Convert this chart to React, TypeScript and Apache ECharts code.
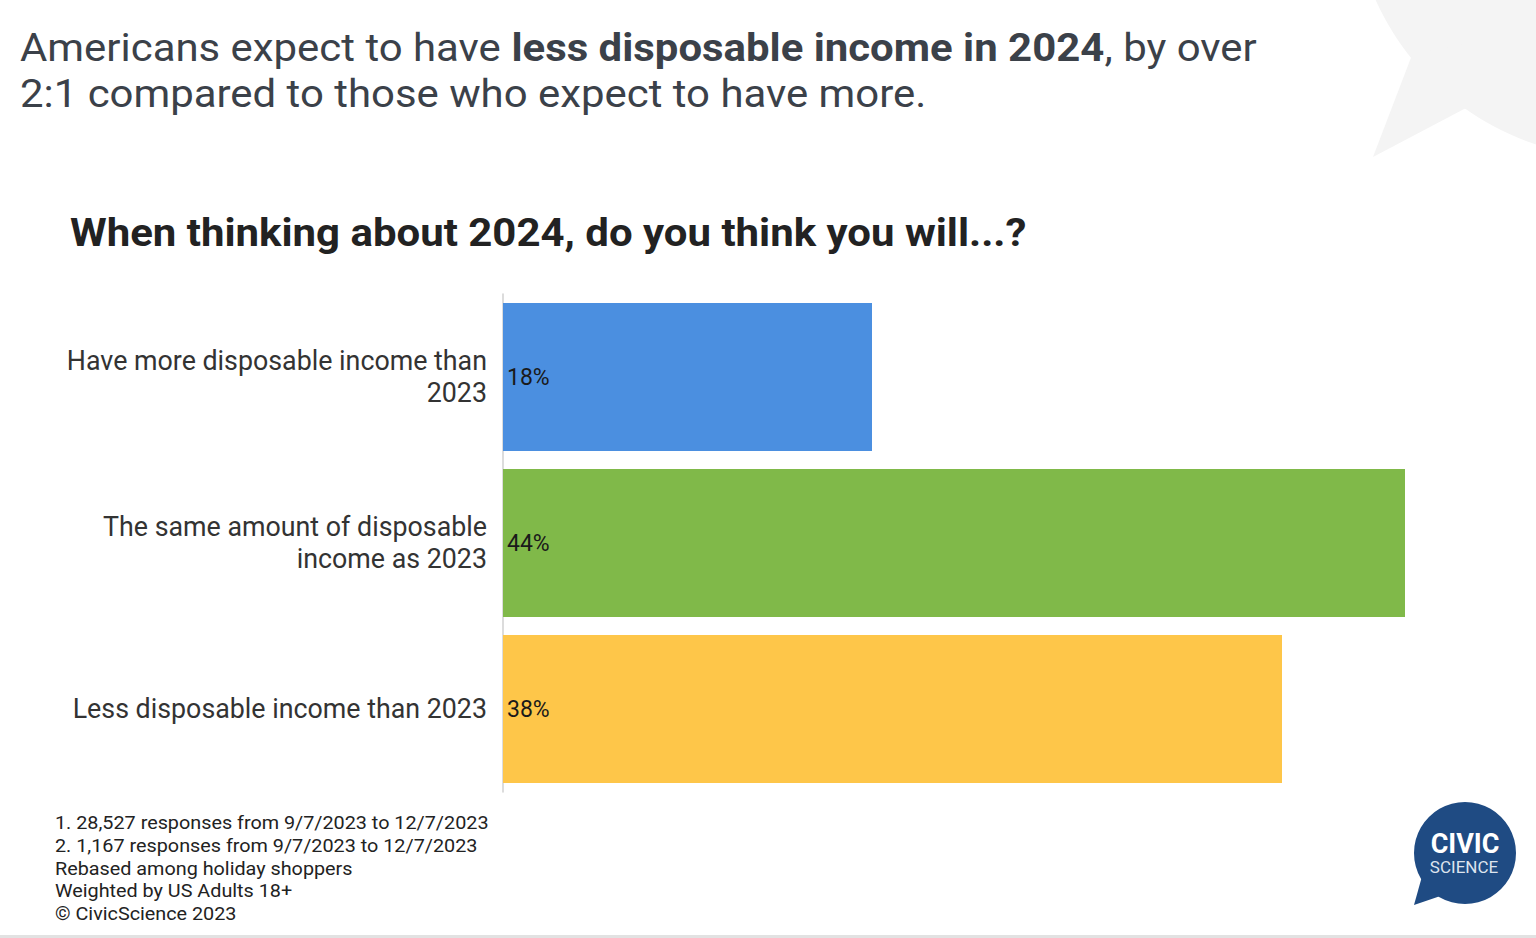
import React, { useEffect, useRef } from "react";
import * as echarts from "echarts";

const categories = [
  "Have more disposable income than\n2023",
  "The same amount of disposable\nincome as 2023",
  "Less disposable income than 2023",
];
const values = [18, 44, 38];
const barColors = ["#4b8fe0", "#80b949", "#fec649"];
const footnotes = [
  "1. 28,527 responses from 9/7/2023 to 12/7/2023",
  "2. 1,167 responses from 9/7/2023 to 12/7/2023",
  "Rebased among holiday shoppers",
  "Weighted by US Adults 18+",
  "© CivicScience 2023",
];
const titleLine1 = ["Americans expect to have ", "less disposable income in 2024", ", by over"];
const titleLine2 = "2:1 compared to those who expect to have more.";
const subtitle = "When thinking about 2024, do you think you will...?";

export default function App() {
  const ref = useRef<HTMLDivElement>(null);
  useEffect(() => {
    if (!ref.current) return;
    const chart = echarts.init(ref.current, null, { renderer: "svg" });
    const font = "Roboto";
    chart.setOption({
      animation: false,
      backgroundColor: "#ffffff",
      textStyle: { fontFamily: font },
      grid: { left: 503, right: 8, top: 294, height: 498 },
      xAxis: {
        type: "value",
        min: 0,
        max: 50,
        show: false,
      },
      yAxis: {
        type: "category",
        inverse: true,
        data: categories,
        axisLine: { show: true, lineStyle: { color: "#d0d0d0", width: 1.5 } },
        axisTick: { show: false },
        axisLabel: {
          fontFamily: font,
          fontSize: 26.8,
          color: "#333333",
          lineHeight: 32,
          align: "right",
          margin: 16,
        },
      },
      series: [
        {
          type: "bar",
          data: values.map((v, i) => ({ value: v, itemStyle: { color: barColors[i] } })),
          barCategoryGap: "10.8%",
          label: {
            show: true,
            position: "insideLeft",
            distance: 4,
            formatter: "{c}%",
            fontFamily: font,
            fontSize: 23,
            color: "#1a1a1a",
          },
        },
      ],
      graphic: [
        {
          type: "circle",
          shape: { cx: 1620, cy: -110, r: 268 },
          style: { fill: "#f4f4f4" },
          z: -10,
        },
        {
          type: "polygon",
          shape: { points: [[1412, 55], [1373, 157], [1466, 108], [1480, 40]] },
          style: { fill: "#f4f4f4" },
          z: -10,
        },
        {
          type: "text",
          x: 20,
          y: 25,
          scaleX: 1.075,
          style: {
            text:
              "{r|" + titleLine1[0] + "}{b|" + titleLine1[1] + "}{r|" + titleLine1[2] + "}\n{r|" + titleLine2 + "}",
            verticalAlign: "top",
            rich: {
              r: { fontFamily: font, fontSize: 39, fill: "#3b4149", lineHeight: 46 },
              b: { fontFamily: font, fontSize: 39, fontWeight: "bold", fill: "#3b4149", lineHeight: 46 },
            },
          },
        },
        {
          type: "text",
          x: 70,
          y: 214,
          scaleX: 1.104,
          style: {
            text: subtitle,
            fontFamily: font,
            fontSize: 38,
            fontWeight: "bold",
            fill: "#222222",
            verticalAlign: "top",
          },
        },
        {
          type: "text",
          x: 55,
          y: 812,
          scaleX: 1.1,
          style: {
            text: footnotes.join("\n"),
            fontFamily: font,
            fontSize: 18,
            lineHeight: 22.6,
            fill: "#222222",
            verticalAlign: "top",
          },
        },
        {
          type: "polygon",
          shape: { points: [[1426, 862], [1414, 905], [1458, 890]] },
          style: { fill: "#1f4b83" },
        },
        {
          type: "circle",
          shape: { cx: 1465, cy: 853, r: 51 },
          style: { fill: "#1f4b83" },
        },
        {
          type: "text",
          x: 1465,
          y: 844,
          style: {
            text: "CIVIC",
            fontFamily: font,
            fontSize: 27,
            lineHeight: 22,
            fontWeight: "bold",
            fill: "#ffffff",
            align: "center",
            verticalAlign: "middle",
          },
        },
        {
          type: "text",
          x: 1464,
          y: 867,
          style: {
            text: "SCIENCE",
            fontFamily: font,
            fontSize: 17,
            lineHeight: 15,
            fill: "#dde4ee",
            align: "center",
            verticalAlign: "middle",
          },
        },
        {
          type: "rect",
          shape: { x: 0, y: 935, width: 1536, height: 3 },
          style: { fill: "#e2e2e2" },
        },
      ],
    });
    return () => chart.dispose();
  }, []);
  return (
    <div
      ref={ref}
      style={{ position: "fixed", left: 0, top: 0, width: 1536, height: 938 }}
    />
  );
}
